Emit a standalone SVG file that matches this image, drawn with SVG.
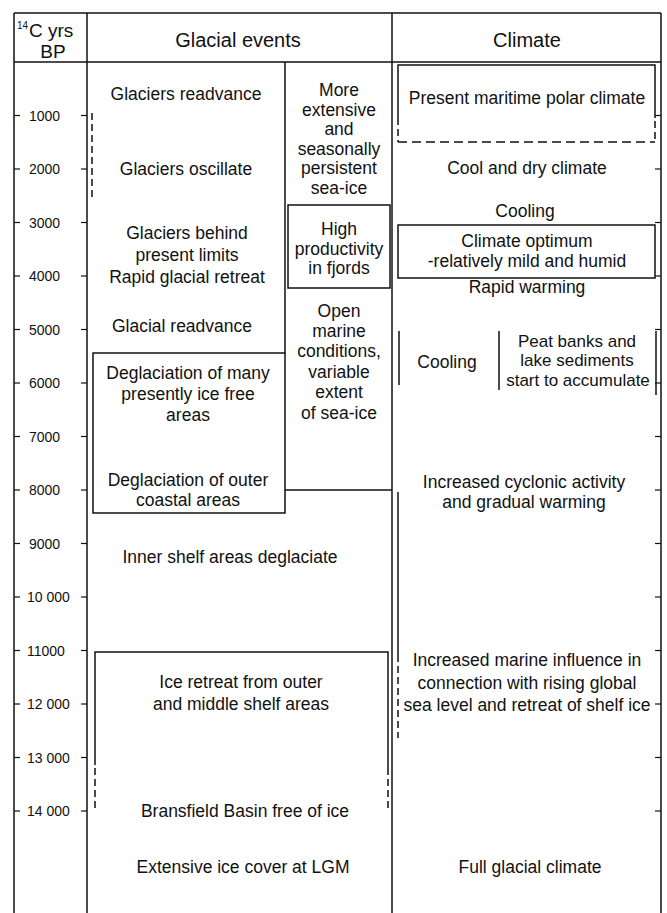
<svg xmlns="http://www.w3.org/2000/svg" width="667" height="913" viewBox="0 0 667 913">
<style>
  .ln{stroke:#111;stroke-width:1.5;fill:none}
  .ds{stroke:#111;stroke-width:1.5;fill:none;stroke-dasharray:7,4}
  .dl{stroke:#111;stroke-width:1.5;fill:none;stroke-dasharray:9,5}
  .tk{stroke:#111;stroke-width:1.2}
  text{font-family:"Liberation Sans",Arial,sans-serif;fill:#111}
  .t{font-size:17.5px;text-anchor:middle}
  .h{font-size:20px;text-anchor:middle}
  .y{font-size:14px}
</style>
<rect width="667" height="913" fill="#fff"/>
<g id="frame">
  <line class="ln" x1="14" y1="13" x2="661" y2="13"/>
  <line class="ln" x1="14" y1="62" x2="661" y2="62"/>
  <line class="ln" x1="14" y1="13" x2="14" y2="913"/>
  <line class="ln" x1="87" y1="13" x2="87" y2="913"/>
  <line class="ln" x1="392" y1="13" x2="392" y2="913"/>
  <line class="ln" x1="661" y1="13" x2="661" y2="913"/>
</g>
<g id="header">
  <text x="17" y="29" style="font-size:10px">14</text>
  <text x="29" y="37" style="font-size:19px">C yrs</text>
  <text x="53" y="58" style="font-size:19px;text-anchor:middle">BP</text>
  <text x="238" y="47" class="h">Glacial events</text>
  <text x="527" y="47" class="h">Climate</text>
</g>
<g id="axis">
  <g class="tk">
    <line x1="14" y1="115.5" x2="20" y2="115.5"/><line x1="81" y1="115.5" x2="87" y2="115.5"/><line x1="655" y1="115.5" x2="661" y2="115.5"/>
    <line x1="14" y1="169" x2="20" y2="169"/><line x1="81" y1="169" x2="87" y2="169"/><line x1="655" y1="169" x2="661" y2="169"/>
    <line x1="14" y1="222.5" x2="20" y2="222.5"/><line x1="81" y1="222.5" x2="87" y2="222.5"/><line x1="655" y1="222.5" x2="661" y2="222.5"/>
    <line x1="14" y1="276" x2="20" y2="276"/><line x1="81" y1="276" x2="87" y2="276"/><line x1="655" y1="276" x2="661" y2="276"/>
    <line x1="14" y1="329.5" x2="20" y2="329.5"/><line x1="81" y1="329.5" x2="87" y2="329.5"/><line x1="655" y1="329.5" x2="661" y2="329.5"/>
    <line x1="14" y1="383" x2="20" y2="383"/><line x1="81" y1="383" x2="87" y2="383"/><line x1="655" y1="383" x2="661" y2="383"/>
    <line x1="14" y1="436.5" x2="20" y2="436.5"/><line x1="81" y1="436.5" x2="87" y2="436.5"/><line x1="655" y1="436.5" x2="661" y2="436.5"/>
    <line x1="14" y1="490" x2="20" y2="490"/><line x1="81" y1="490" x2="87" y2="490"/><line x1="655" y1="490" x2="661" y2="490"/>
    <line x1="14" y1="543.5" x2="20" y2="543.5"/><line x1="81" y1="543.5" x2="87" y2="543.5"/><line x1="655" y1="543.5" x2="661" y2="543.5"/>
    <line x1="14" y1="597" x2="20" y2="597"/><line x1="81" y1="597" x2="87" y2="597"/><line x1="655" y1="597" x2="661" y2="597"/>
    <line x1="14" y1="650.5" x2="20" y2="650.5"/><line x1="81" y1="650.5" x2="87" y2="650.5"/><line x1="655" y1="650.5" x2="661" y2="650.5"/>
    <line x1="14" y1="704" x2="20" y2="704"/><line x1="81" y1="704" x2="87" y2="704"/><line x1="655" y1="704" x2="661" y2="704"/>
    <line x1="14" y1="757.5" x2="20" y2="757.5"/><line x1="81" y1="757.5" x2="87" y2="757.5"/><line x1="655" y1="757.5" x2="661" y2="757.5"/>
    <line x1="14" y1="811" x2="20" y2="811"/><line x1="81" y1="811" x2="87" y2="811"/><line x1="655" y1="811" x2="661" y2="811"/>
  </g>
  <text class="y" x="29" y="120.5">1000</text>
  <text class="y" x="29" y="174">2000</text>
  <text class="y" x="29" y="227.5">3000</text>
  <text class="y" x="29" y="281">4000</text>
  <text class="y" x="29" y="334.5">5000</text>
  <text class="y" x="29" y="388">6000</text>
  <text class="y" x="29" y="441.5">7000</text>
  <text class="y" x="29" y="495">8000</text>
  <text class="y" x="29" y="548.5">9000</text>
  <text class="y" x="27" y="602">10 000</text>
  <text class="y" x="27" y="655.5">11000</text>
  <text class="y" x="27" y="709">12 000</text>
  <text class="y" x="27" y="762.5">13 000</text>
  <text class="y" x="27" y="816">14 000</text>
</g>
<g id="connectors">
  <line class="ds" x1="92" y1="113" x2="92" y2="197"/>
  <line class="ln" x1="285" y1="62" x2="285" y2="353"/>
  <line class="ln" x1="285" y1="490" x2="392" y2="490"/>
  <line class="ln" x1="399" y1="331" x2="399" y2="385"/>
  <line class="ln" x1="499" y1="331" x2="499" y2="390"/>
  <line class="ln" x1="656" y1="331" x2="656" y2="395"/>
  <line class="ln" x1="398" y1="492" x2="398" y2="655"/>
  <line class="ds" x1="398" y1="655" x2="398" y2="738"/>
</g>
<g id="glaciers-readvance"><text class="t" x="186" y="99.5">Glaciers readvance</text></g>
<g id="glaciers-oscillate"><text class="t" x="186" y="174.5">Glaciers oscillate</text></g>
<g id="glaciers-behind">
  <text class="t" x="187" y="239">Glaciers behind</text>
  <text class="t" x="187" y="261">present limits</text>
  <text class="t" x="187" y="283">Rapid glacial retreat</text>
</g>
<g id="glacial-readvance"><text class="t" x="182" y="331.5">Glacial readvance</text></g>
<g id="deglaciation">
  <rect class="ln" x="93" y="353" width="192" height="160"/>
  <text class="t" x="188" y="378.5">Deglaciation of many</text>
  <text class="t" x="188" y="399.5">presently ice free</text>
  <text class="t" x="188" y="420.5">areas</text>
  <text class="t" x="188" y="485.5">Deglaciation of outer</text>
  <text class="t" x="188" y="505.5">coastal areas</text>
</g>
<g id="inner-shelf"><text class="t" x="230" y="562.5">Inner shelf areas deglaciate</text></g>
<g id="ice-retreat">
  <path class="ln" d="M95 765V652H388V775"/>
  <line class="ds" x1="95" y1="768" x2="95" y2="812"/>
  <line class="ds" x1="388" y1="779" x2="388" y2="812"/>
  <text class="t" x="241" y="687.5">Ice retreat from outer</text>
  <text class="t" x="241" y="709.5">and middle shelf areas</text>
</g>
<g id="bransfield"><text class="t" x="245" y="816.5">Bransfield Basin free of ice</text></g>
<g id="lgm"><text class="t" x="243" y="872.5">Extensive ice cover at LGM</text></g>
<g id="sea-ice">
  <text class="t" x="339" y="96">More</text>
  <text class="t" x="339" y="115.5">extensive</text>
  <text class="t" x="339" y="135">and</text>
  <text class="t" x="339" y="154.5">seasonally</text>
  <text class="t" x="339" y="174">persistent</text>
  <text class="t" x="339" y="193.5">sea-ice</text>
</g>
<g id="high-productivity">
  <rect class="ln" x="288" y="205" width="102" height="83"/>
  <text class="t" x="339" y="234.5">High</text>
  <text class="t" x="339" y="254.5">productivity</text>
  <text class="t" x="339" y="273.5">in fjords</text>
</g>
<g id="open-marine">
  <text class="t" x="339" y="316.5">Open</text>
  <text class="t" x="339" y="336.5">marine</text>
  <text class="t" x="339" y="356.5">conditions,</text>
  <text class="t" x="339" y="377.5">variable</text>
  <text class="t" x="339" y="398">extent</text>
  <text class="t" x="339" y="418.5">of sea-ice</text>
</g>
<g id="present-climate">
  <path class="ln" d="M398 118V65H655V118"/>
  <line class="ds" x1="398" y1="118" x2="398" y2="142"/>
  <line class="ds" x1="655" y1="121" x2="655" y2="142"/>
  <line class="dl" x1="398" y1="142" x2="655" y2="142"/>
  <text class="t" x="527" y="103.5">Present maritime polar climate</text>
</g>
<g id="cool-dry"><text class="t" x="527" y="173.5">Cool and dry climate</text></g>
<g id="cooling-upper"><text class="t" x="525" y="216.5">Cooling</text></g>
<g id="climate-optimum">
  <rect class="ln" x="398" y="225" width="257" height="53"/>
  <text class="t" x="527" y="246.5">Climate optimum</text>
  <text class="t" x="527" y="266.5">-relatively mild and humid</text>
</g>
<g id="rapid-warming"><text class="t" x="527" y="292.5">Rapid warming</text></g>
<g id="cooling-lower"><text class="t" x="447" y="367.5">Cooling</text></g>
<g id="peat">
  <text class="t" x="577" y="346.5" style="font-size:17px">Peat banks and</text>
  <text class="t" x="577" y="366" style="font-size:17px">lake sediments</text>
  <text class="t" x="578" y="385.5" style="font-size:17px">start to accumulate</text>
</g>
<g id="cyclonic">
  <text class="t" x="524" y="487.5">Increased cyclonic activity</text>
  <text class="t" x="524" y="507.5">and gradual warming</text>
</g>
<g id="marine-influence">
  <text class="t" x="527" y="665.5">Increased marine influence in</text>
  <text class="t" x="527" y="688.5">connection with rising global</text>
  <text class="t" x="527" y="710.5">sea level and retreat of shelf ice</text>
</g>
<g id="full-glacial"><text class="t" x="530" y="872.5">Full glacial climate</text></g>
</svg>
